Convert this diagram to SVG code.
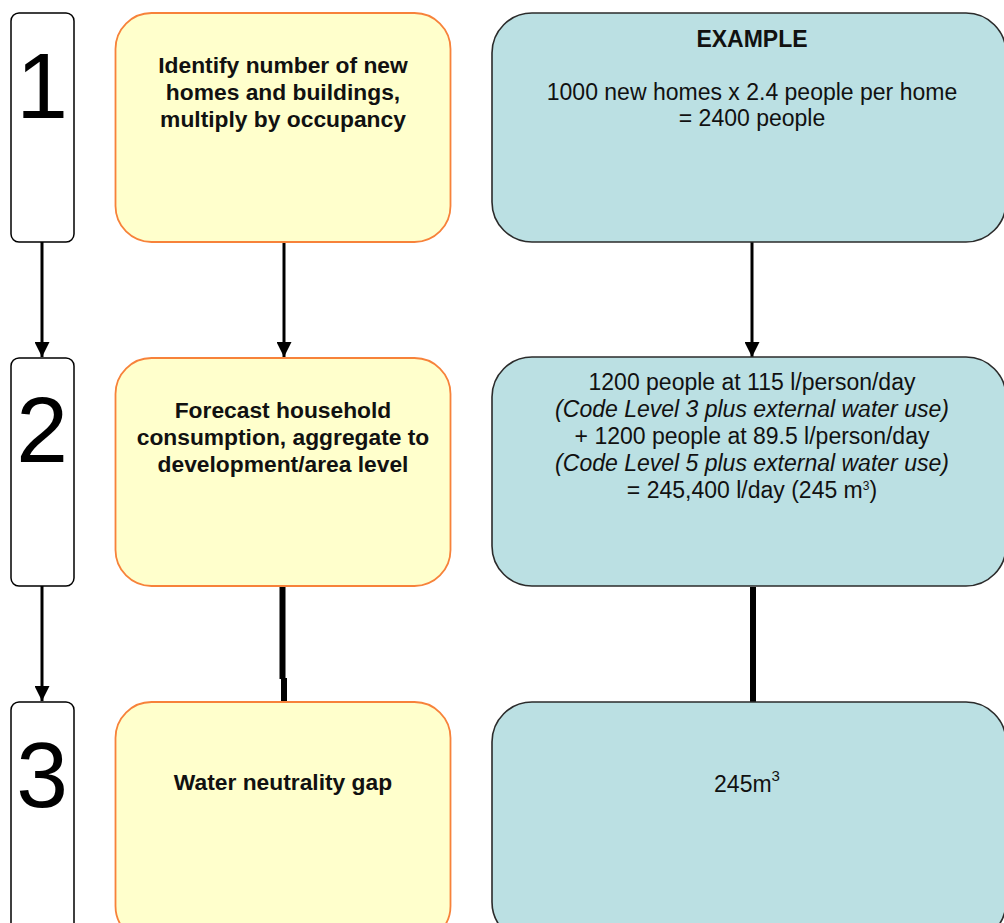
<svg xmlns="http://www.w3.org/2000/svg" width="1004" height="923" viewBox="0 0 1004 923">
<defs>
<style>
.num{fill:#fff;stroke:#000;stroke-width:1.5}
.yel{fill:#FFFFCC;stroke:#F7823A;stroke-width:1.8}
.blu{fill:#BBE0E3;stroke:#2b2b2b;stroke-width:1.6}
.digit{font-family:"Liberation Sans",Arial,sans-serif;font-size:93px;fill:#000;text-anchor:middle}
.yt{font-family:"Liberation Sans",Arial,sans-serif;font-size:22.8px;font-weight:bold;fill:#111;text-anchor:middle}
.bt{font-family:"Liberation Sans",Arial,sans-serif;font-size:23px;fill:#111;text-anchor:middle}
.it{font-style:italic}
.ln{stroke:#000;stroke-width:3;fill:none}
.thick{stroke:#000;stroke-width:6;fill:none}
</style>
<marker id="ah" markerWidth="5" markerHeight="5" refX="5" refY="2.5" orient="auto" markerUnits="strokeWidth">
<path d="M0,0 L5,2.5 L0,5 Z" fill="#000"/>
</marker>
</defs>
<rect width="1004" height="923" fill="#fff"/>

<g id="connectors">
<line class="ln" x1="42" y1="242" x2="42" y2="357" marker-end="url(#ah)"/>
<line class="ln" x1="284" y1="242" x2="284" y2="357" marker-end="url(#ah)"/>
<line class="ln" x1="752" y1="242" x2="752" y2="357" marker-end="url(#ah)"/>
<line class="ln" x1="42" y1="586" x2="42" y2="701" marker-end="url(#ah)"/>
<path class="thick" d="M282.5,587 V679 M284,678 V702"/>
<line class="thick" x1="753" y1="587" x2="753" y2="702"/>
</g>

<g id="step1">
<rect class="num" x="11" y="13" width="63" height="229" rx="8"/>
<text class="digit" x="42" y="118">1</text>
</g>
<g id="step2">
<rect class="num" x="11" y="358" width="63" height="228" rx="8"/>
<text class="digit" x="42" y="462">2</text>
</g>
<g id="step3">
<rect class="num" x="11" y="702" width="63" height="240" rx="8"/>
<text class="digit" x="42" y="807">3</text>
</g>

<g id="action1">
<rect class="yel" x="115.5" y="13" width="335" height="229" rx="36"/>
<text class="yt" x="283" y="73">Identify number of new</text>
<text class="yt" x="283" y="100">homes and buildings,</text>
<text class="yt" x="283" y="127">multiply by occupancy</text>
</g>
<g id="action2">
<rect class="yel" x="115.5" y="358" width="335" height="228" rx="36"/>
<text class="yt" x="283" y="418">Forecast household</text>
<text class="yt" x="283" y="445">consumption, aggregate to</text>
<text class="yt" x="283" y="472">development/area level</text>
</g>
<g id="action3">
<rect class="yel" x="115.5" y="702" width="335" height="240" rx="36"/>
<text class="yt" x="283" y="790">Water neutrality gap</text>
</g>

<g id="example1">
<rect class="blu" x="492" y="13" width="514" height="229" rx="40"/>
<text class="bt" x="752" y="47" font-weight="bold">EXAMPLE</text>
<text class="bt" x="752" y="100">1000 new homes x 2.4 people per home</text>
<text class="bt" x="752" y="126">= 2400 people</text>
</g>
<g id="example2">
<rect class="blu" x="492" y="357" width="514" height="229" rx="40"/>
<text class="bt" x="752" y="390">1200 people at 115 l/person/day</text>
<text class="bt it" x="752" y="417">(Code Level 3 plus external water use)</text>
<text class="bt" x="752" y="444">+ 1200 people at 89.5 l/person/day</text>
<text class="bt it" x="752" y="471">(Code Level 5 plus external water use)</text>
<text class="bt" x="752" y="498">= 245,400 l/day (245 m<tspan font-size="12" dy="-8">3</tspan><tspan dy="8">)</tspan></text>
</g>
<g id="example3">
<rect class="blu" x="492" y="702" width="514" height="240" rx="40"/>
<text class="bt" x="747" y="792">245m<tspan font-size="15" dy="-11">3</tspan></text>
</g>
</svg>
